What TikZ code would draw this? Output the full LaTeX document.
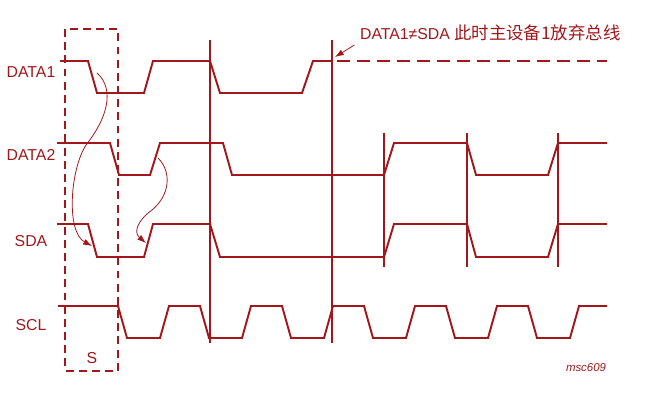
\documentclass[tikz,border=0pt]{standalone}
\usepackage{fontspec}
\setmainfont{Liberation Sans}
\newfontfamily\cjk{Noto Sans CJK SC}[Scale=1.1]
\usetikzlibrary{arrows.meta}
\definecolor{sigred}{RGB}{160,24,28}

\begin{document}
\begin{tikzpicture}[x=0.02cm, y=-0.02cm,
    wave/.style={sigred, line width=1.1pt, line join=miter},
    marker/.style={sigred, line width=0.6pt},
    lbl/.style={text=sigred, font=\fontsize{9}{10}\selectfont},
    hint/.style={sigred, line width=0.45pt, -{Latex[length=5pt,width=3.5pt]}}]
    \useasboundingbox (0,0) rectangle (645,402);

    % Signal names
    \foreach \name/\txt/\y in {data1/DATA1/72, data2/DATA2/155, sda/SDA/241, scl/SCL/325} {
      \node[lbl] (\name) at (31,\y) {\txt};
    }

    % Start condition window
    \draw[sigred, line width=0.6pt, dash pattern=on 4.5pt off 3pt] (65,29) rectangle (118,371);
    \node[lbl] (start) at (92,358) {S};

    % Markers at the data edges
    \draw[marker] (210,40) -- (210,343);
    \draw[marker] (332,40) -- (332,343);
    \foreach \x in {384,467,558} {
      \draw[marker] (\x,133) -- (\x,267);
    }

    % DATA1 (drops out after the lost bit)
    \draw[wave] (60,61) -- (88,61) -- (97,93) -- (144,93) -- (153,61) -- (210,61)
      -- (220,93) -- (302,93) -- (313,61) -- (332,61);
    \draw[sigred, line width=1.5pt, dash pattern=on 7.4pt off 4pt] (337,61) -- (607,61);

    % DATA2
    \draw[wave] (57,143) -- (110,143) -- (119,175) -- (150,175) -- (160,143) -- (223,143)
      -- (232,175) -- (384,175) -- (394,143) -- (467,143) -- (476,175) -- (548,175)
      -- (558,143) -- (607,143);

    % SDA = DATA1 and DATA2
    \draw[wave] (57,224) -- (88,224) -- (97,257) -- (144,257) -- (153,224) -- (210,224)
      -- (220,257) -- (384,257) -- (394,224) -- (467,224) -- (476,257) -- (548,257)
      -- (558,224) -- (607,224);

    % SCL clock
    \draw[wave] (58,306) \foreach \k in {0,...,5} {
        -- (118+82*\k,306) -- (127+82*\k,338) -- (160+82*\k,338) -- (169+82*\k,306)
      } -- (607,306);

    % Edges that follow each other
    \coordinate (d1fall) at (97,73);
    \coordinate (sdafall) at (92,246);
    \coordinate (d2rise) at (158,158);
    \coordinate (sdarise) at (146,243);
    \draw[hint] (d1fall) .. controls (116,90) and (106,120) .. (86,145)
      .. controls (70,170) and (66,232) .. (sdafall);
    \draw[hint] (d2rise) .. controls (172,172) and (170,195) .. (152,210)
      .. controls (138,220) and (133,232) .. (sdarise);

    % Arbitration lost
    \node[lbl, anchor=west, inner sep=1pt] (lost) at (358,33)
      {DATA1≠SDA {\cjk 此时主设备1放弃总线}};
    \coordinate (lostedge) at (335,57);
    \draw[hint] ([xshift=-2pt,yshift=-1pt]lost.south west) -- (lostedge);

    \node[text=sigred, font=\fontsize{6.5}{7}\selectfont\itshape] (tag) at (586,368) {msc609};
\end{tikzpicture}
\end{document}
